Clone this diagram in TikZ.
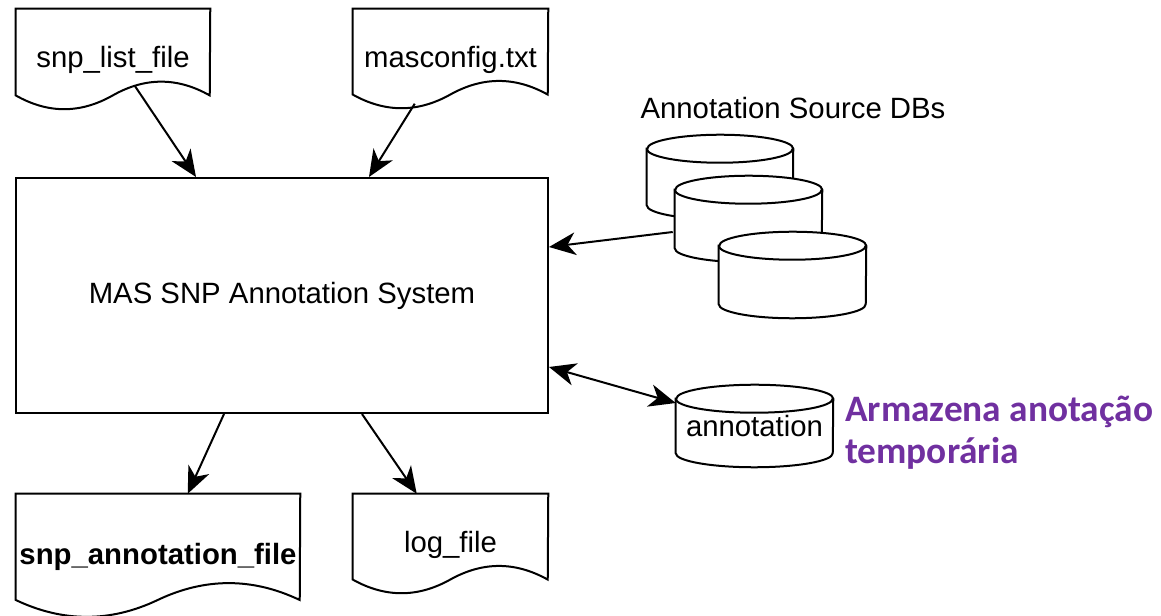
\documentclass[tikz,border=0pt]{standalone}
\usepackage{fontspec}
\setmainfont{Liberation Sans}
\newfontfamily\notefont{Carlito}
\usetikzlibrary{arrows.meta,backgrounds}
\definecolor{notepurple}{HTML}{7030A0}
\tikzset{
  line/.style={black, line width=1.5pt},
  arr/.style={line, -{Stealth[length=20pt,width=17pt,inset=6pt]}},
  arrboth/.style={line, {Stealth[length=20pt,width=17pt,inset=6pt]}-{Stealth[length=20pt,width=17pt,inset=6pt]}},
  note/.style={text=notepurple, font=\notefont\bfseries\fontsize{28}{31.5}\selectfont, inner sep=0pt, align=left},
}
\begin{document}
\begin{tikzpicture}[x=0.75pt, y=-0.75pt, font=\fontsize{22}{26}\selectfont]
  \useasboundingbox (0,0) rectangle (1161,616);
  \node[line, draw, minimum width=399pt, minimum height=176.25pt] (sys) at (282,295.5) {MAS SNP Annotation System};
  \foreach \n/\x/\y/\w/\h/\lbl in {lst/113/60/194/102/snp\_list\_file, cfg/450.5/59.5/195/101/masconfig.txt, ann/158/556.5/284/125/\textbf{snp\_annotation\_file}, log/450.5/544.5/195/101/log\_file} {
    \node[minimum width=\w*0.75pt, minimum height=\h*0.75pt, inner sep=0pt] (\n) at (\x,\y) {\lbl};
    \draw[line] (\n.north west) -- (\n.north east) -- ([shift={(\w,0.85*\h)}]\n.north west)
      .. controls ([shift={(5*\w/6,0.67*\h)}]\n.north west) and ([shift={(2*\w/3,0.67*\h)}]\n.north west) .. ([shift={(\w/2,0.85*\h)}]\n.north west)
      .. controls ([shift={(\w/3,1.03*\h)}]\n.north west) and ([shift={(\w/6,1.03*\h)}]\n.north west) .. ([shift={(0,0.85*\h)}]\n.north west) -- cycle;
  }

  \node (src) at (793,108) {Annotation Source DBs};
  \foreach \n/\x/\y/\w/\h/\lbl in {db1/720/177/146/84/, db2/748.5/219/147/86/, db3/792.5/275/147/86/, tmp/754.5/426/157/82/annotation} {
    \node[minimum width=\w*0.75pt, minimum height=\h*0.75pt, inner sep=0pt] (\n) at (\x,\y) {\lbl};
    \begin{pgfonlayer}{background}
      \draw[line, fill=white] ([shift={(0,14)}]\n.north west) -- ([shift={(0,-14)}]\n.south west)
        arc[start angle=180, end angle=0, x radius=\w/2, y radius=14] -- ([shift={(0,14)}]\n.north east)
        arc[start angle=0, end angle=-180, x radius=\w/2, y radius=14] -- cycle;
      \draw[line] ([shift={(0,14)}]\n.north west) arc[start angle=180, end angle=0, x radius=\w/2, y radius=14];
    \end{pgfonlayer}
  }
  \node[note, anchor=west] (memo) at (845,433) {Armazena anotação\\temporária};

  \draw[arr] ([shift={(119,77)}]lst.north west) -- ([shift={(181,0)}]sys.north west);
  \draw[arr] ([shift={(62,95)}]cfg.north west) -- ([shift={(354,0)}]sys.north west);
  \draw[arr] ([shift={(209,0)}]sys.south west) -- ([shift={(172,0)}]ann.north west);
  \draw[arr] ([shift={(347,0)}]sys.south west) -- ([shift={(64,0)}]log.north west);
  \draw[arr] ([shift={(-2,13)}]db2.west) -- ([shift={(0,70)}]sys.north east);
  \draw[arrboth] ([shift={(0,190)}]sys.north east) -- ([shift={(0,-23)}]tmp.west);
\end{tikzpicture}
\end{document}
